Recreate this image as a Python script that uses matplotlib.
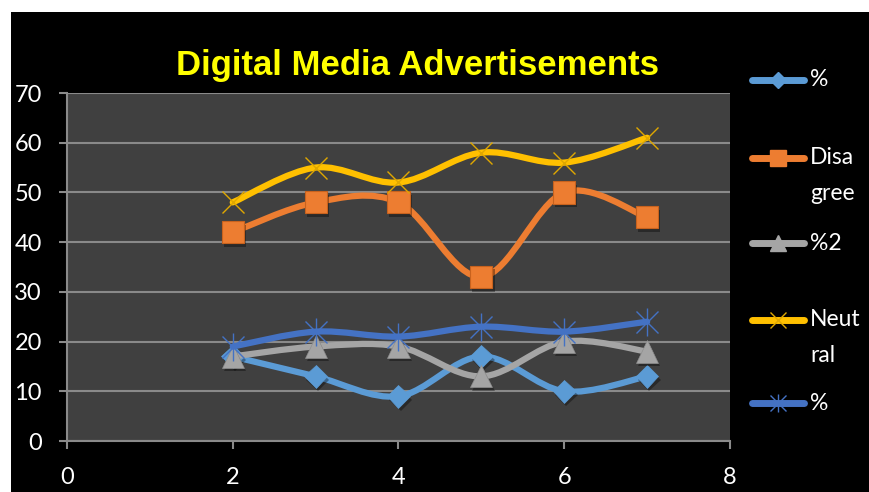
import numpy as np
import matplotlib
matplotlib.use("Agg")
import matplotlib.pyplot as plt
import matplotlib.patheffects as pe
from matplotlib.path import Path
from matplotlib.patches import PathPatch, Rectangle
from matplotlib.lines import Line2D

# survey responses per question number
x_vals = [2, 3, 4, 5, 6, 7]
pct_a = [17, 13, 9, 17, 10, 13]
disagree = [42, 48, 48, 33, 50, 45]
pct_2 = [17, 19, 19, 13, 20, 18]
neutral = [48, 55, 52, 58, 56, 61]
pct_b = [19, 22, 21, 23, 22, 24]

series_names = ["%", "Disa\ngree", "%2", "Neut\nral", "%"]
series_vals = [pct_a, disagree, pct_2, neutral, pct_b]
colors = ["#5B9BD5", "#ED7D31", "#A5A5A5", "#FFC000", "#4472C4"]

y_ticks = [0, 10, 20, 30, 40, 50, 60, 70]
x_ticks = [0, 2, 4, 6, 8]


def smooth_path(xs, ys):
    # Catmull-Rom style cubic Bezier through every point
    pts = np.column_stack([xs, ys]).astype(float)
    n = len(pts)
    verts = [pts[0]]
    codes = [Path.MOVETO]
    for i in range(n - 1):
        p0 = pts[max(i - 1, 0)]
        p1 = pts[i]
        p2 = pts[i + 1]
        p3 = pts[min(i + 2, n - 1)]
        c1 = p1 + (p2 - p0) / 6.0
        c2 = p2 - (p3 - p1) / 6.0
        verts += [c1, c2, p2]
        codes += [Path.CURVE4] * 3
    return Path(verts, codes)


fig = plt.figure(figsize=(8.7, 4.92), dpi=100)
fig.patch.set_facecolor("white")
fig.patches.append(Rectangle((11 / 870, 0), 1, 1 - 12 / 492, transform=fig.transFigure,
                             facecolor="black", edgecolor="none", zorder=-10))

ax = fig.add_axes([67 / 870, 51 / 492, 663 / 870, 348 / 492])
ax.set_facecolor("#404040")
ax.set_xlim(0, 8)
ax.set_ylim(0, 70)
ax.set_xticks(x_ticks)
ax.set_yticks(y_ticks)
grid_col = "#8a8a8a"
ax.yaxis.grid(True, color=grid_col, lw=1.5)
ax.set_axisbelow(True)
for s in ["top", "right"]:
    ax.spines[s].set_visible(False)
for s in ["left", "bottom"]:
    ax.spines[s].set_color(grid_col)
    ax.spines[s].set_linewidth(1.5)
ax.tick_params(axis="both", colors=grid_col, length=6, width=1.5, direction="out")
ax.tick_params(axis="x", pad=13, labelcolor="white", labelsize=17)
ax.tick_params(axis="y", pad=12, labelcolor="white", labelsize=17)
for lab in ax.get_xticklabels() + ax.get_yticklabels():
    lab.set_fontfamily("Lato")

lw = 4.5
shadow = [pe.withSimplePatchShadow(offset=(1.5, -2.5), shadow_rgbFace="black", alpha=0.35)]
marker_kw = [
    dict(marker="D", ms=11.5, mfc=colors[0], mec=colors[0], mew=0.5, path_effects=shadow),
    dict(marker="s", ms=16, mfc=colors[1], mec="#C8621E", mew=0.8, path_effects=shadow),
    dict(marker="^", ms=16, mfc=colors[2], mec="#8F8F8F", mew=0.5, path_effects=shadow),
    dict(marker="x", ms=16, mec="#E0A800", mew=1.0),
    dict(marker="x", ms=16, mec=colors[4], mew=1.0),
]

for k, (vals, col) in enumerate(zip(series_vals, colors)):
    z = 3 + k * 2
    patch = PathPatch(smooth_path(x_vals, vals), fill=False, edgecolor=col, lw=lw,
                      capstyle="round", joinstyle="round", zorder=z)
    ax.add_patch(patch)
    ax.plot(x_vals, vals, ls="none", zorder=z + 1, clip_on=False, **marker_kw[k])
    if k == 4:
        ax.plot(x_vals, vals, ls="none", marker="|", ms=20, mec=col, mew=1.0,
                zorder=z + 1, clip_on=False)

fig.text(418 / 870, 1 - 65 / 492, "Digital Media Advertisements", color="#FFFF00",
         fontsize=25, fontweight="bold", family="Liberation Sans",
         ha="center", va="center")

# legend drawn by hand at the right edge
leg_y = [80, 158, 243, 320, 403]
leg_marker = [
    dict(marker="D", ms=8, mfc=colors[0], mec=colors[0]),
    dict(marker="s", ms=11, mfc=colors[1], mec=colors[1]),
    dict(marker="^", ms=11, mfc=colors[2], mec=colors[2]),
    dict(marker="x", ms=11, mec="#E0A800", mew=1.0),
    dict(marker="x", ms=11, mec=colors[4], mew=1.0),
]
for k, (name, col) in enumerate(zip(series_names, colors)):
    yf = 1 - leg_y[k] / 492
    fig.add_artist(Line2D([752 / 870, 804 / 870], [yf, yf], transform=fig.transFigure,
                          color=col, lw=5, solid_capstyle="round"))
    fig.add_artist(Line2D([778 / 870], [yf], transform=fig.transFigure, ls="none",
                          **leg_marker[k]))
    if k == 4:
        fig.add_artist(Line2D([778 / 870], [yf], transform=fig.transFigure, ls="none",
                              marker="|", ms=13, mec=col, mew=1.0))
    # two-line labels wrap under the handle's row
    for j, part in enumerate(name.split("\n")):
        fig.text(810 / 870, yf - j * 35 / 492, part, color="white", fontsize=16.5,
                 family="Lato", ha="left", va="center")

fig.savefig("out.png", dpi=100, facecolor=fig.get_facecolor())
